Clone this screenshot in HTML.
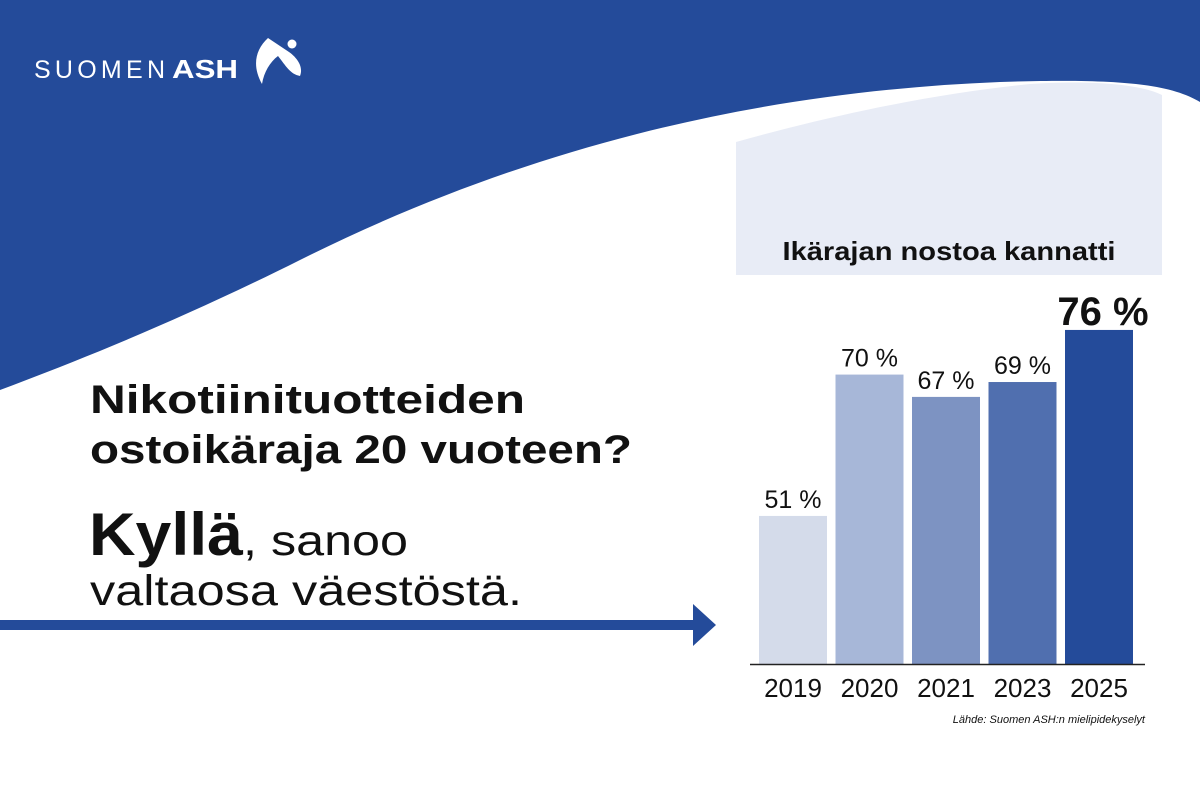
<!DOCTYPE html>
<html><head><meta charset="utf-8"><style>
html,body{margin:0;padding:0;background:#fff}
svg{display:block;font-family:"Liberation Sans",sans-serif}
</style></head><body>
<svg id="c" width="1200" height="800" viewBox="0 0 1200 800">
<rect x="0" y="0" width="1200" height="800" fill="#ffffff"/>
<path d="M0,0 H1200 V102 C1170,84 1120,78 1000,82 C750,92 520,150 300,260 C180,320 80,360 0,390 Z" fill="#244b9a"/>
<path d="M736,275 V142 C850,110 950,92 1030,84 C1090,80 1140,84 1162,95 V275 Z" fill="#e8ecf6"/>
<g>
<text x="34" y="78" font-size="25" fill="#fff" textLength="131" lengthAdjust="spacing">SUOMEN</text>
<text x="172" y="78" font-size="26" font-weight="bold" fill="#fff" textLength="66" lengthAdjust="spacingAndGlyphs">ASH</text>
<path d="M268,38 C255,50 252,66 262,84 C264,72 270,62 278,56 C286,66 290,74 300,76 C304,66 296,56 286,50 C280,46 274,42 268,38 Z" fill="#fff"/>
<circle cx="292" cy="44" r="4.5" fill="#fff"/>
</g>
<text x="90" y="413" font-size="40" font-weight="bold" fill="#111" textLength="435" lengthAdjust="spacingAndGlyphs">Nikotiinituotteiden</text>
<text x="90" y="463" font-size="40" font-weight="bold" fill="#111" textLength="542" lengthAdjust="spacingAndGlyphs">ostoikäraja 20 vuoteen?</text>
<text x="89" y="555" font-size="60" font-weight="bold" fill="#111" textLength="154" lengthAdjust="spacingAndGlyphs">Kyllä</text>
<text x="243" y="555" font-size="43" fill="#111" textLength="165" lengthAdjust="spacingAndGlyphs">, sanoo</text>
<text x="90" y="605" font-size="43" fill="#111" textLength="432" lengthAdjust="spacingAndGlyphs">valtaosa väestöstä.</text>
<rect x="0" y="620" width="697" height="10" fill="#244b9a"/>
<path d="M693,604 L716,625 L693,646 Z" fill="#244b9a"/>
<text x="949" y="260" font-size="26" font-weight="bold" fill="#111" text-anchor="middle" textLength="333" lengthAdjust="spacingAndGlyphs">Ikärajan nostoa kannatti</text>
<g id="bars"></g>
<line x1="750" y1="664.5" x2="1145" y2="664.5" stroke="#222" stroke-width="1.5"/>
<text x="1145" y="723" font-size="11" font-style="italic" fill="#111" text-anchor="end">Lähde: Suomen ASH:n mielipidekyselyt</text>
</svg>
<script>
const categories = ["2019","2020","2021","2023","2025"];
const values = [51,70,67,69,76];
const valueLabels = ["51 %","70 %","67 %","69 %","76 %"];
const colors = ["#d4dbea","#a7b7d8","#7d93c2","#506faf","#244b9a"];
const base = 664, x0 = 759, step = 76.5, bw = 68;
function yScale(v){ return base - (v - 31.1) * 7.44; }
const g = document.getElementById('bars');
const NS = "http://www.w3.org/2000/svg";
categories.forEach((c,i)=>{
  const x = x0 + i*step, y = yScale(values[i]);
  const r = document.createElementNS(NS,'rect');
  r.setAttribute('x',x); r.setAttribute('y',y); r.setAttribute('width',bw); r.setAttribute('height',base-y);
  r.setAttribute('fill',colors[i]);
  
  
  g.appendChild(r);
  const last = i === categories.length-1;
  const t = document.createElementNS(NS,'text');
  t.setAttribute('x', last ? x+bw/2+4 : x+bw/2); t.setAttribute('y', last ? y-5 : y-8);
  t.setAttribute('text-anchor','middle');
  t.setAttribute('font-size', last ? 40 : 25);
  if(last) t.setAttribute('font-weight','bold');
  t.setAttribute('fill','#111');
  t.textContent = valueLabels[i];
  
  
  g.appendChild(t);
  const l = document.createElementNS(NS,'text');
  l.setAttribute('x', x+bw/2); l.setAttribute('y', 697);
  l.setAttribute('text-anchor','middle'); l.setAttribute('font-size',26); l.setAttribute('fill','#111');
  l.textContent = c;
  
  
  g.appendChild(l);
});
</script>
</body></html>
